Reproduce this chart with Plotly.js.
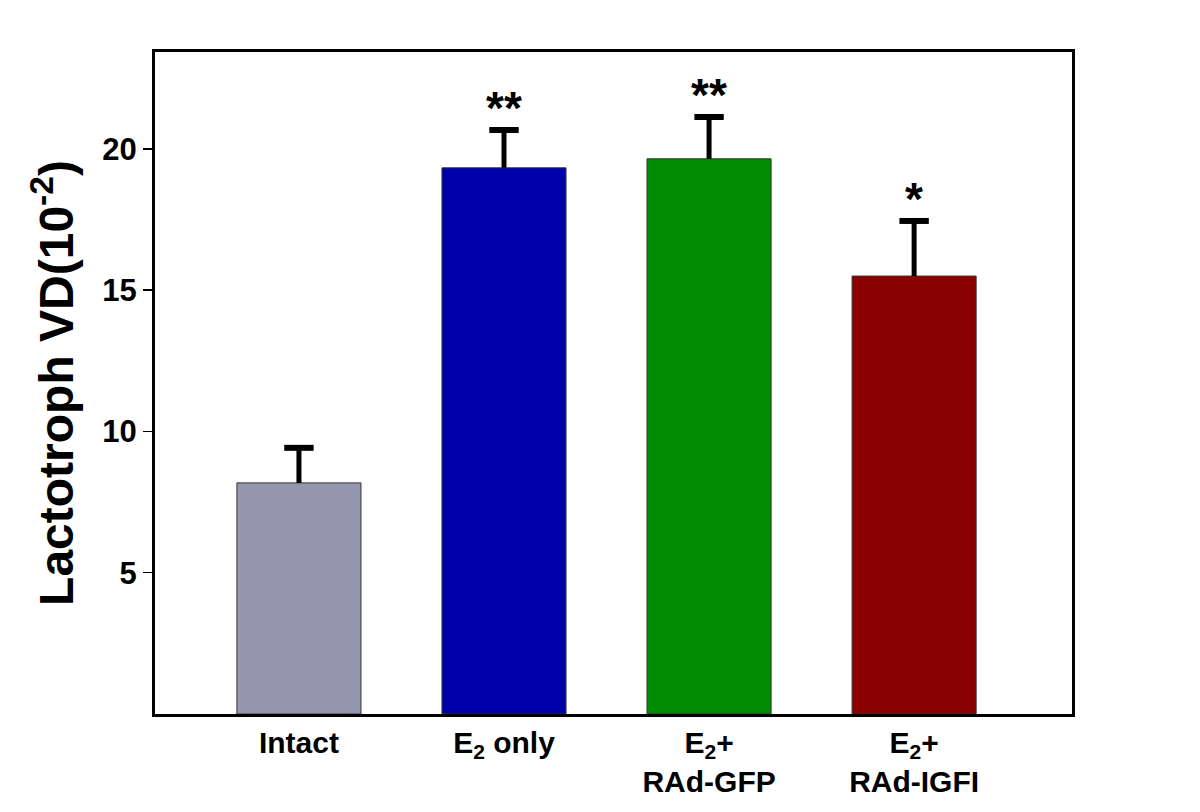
<!DOCTYPE html>
<html>
<head>
<meta charset="utf-8">
<script src="https://cdn.plot.ly/plotly-3.0.1.min.js"></script>
<style>html,body{margin:0;padding:0;background:#fff;}#chart{width:1200px;height:812px;}</style>
</head>
<body>
<div id="chart"></div>
<script>
const categories = ["Intact", "E2 only", "E2+ RAd-GFP", "E2+ RAd-IGFI"];
const tickLabels = ["Intact", "E<sub>2</sub> only", "E<sub>2</sub>+<br>RAd-GFP", "E<sub>2</sub>+<br>RAd-IGFI"];
const means = [8.18, 19.33, 19.65, 15.5];
const errPlus = [1.24, 1.34, 1.48, 1.95];
const errMinus = [0, 0, 0, 0];
const sigMarks = ["", "**", "**", "*"];
const barColors = ["#9696ae", "#0000aa", "#008b00", "#8b0000"];

const FONT = "Liberation Sans, Arial, sans-serif";
const errTops = means.map((m, i) => m + errPlus[i]);

const barTrace = {
  type: "bar",
  x: categories,
  y: means,
  width: 0.605,
  marker: {color: barColors, line: {color: "#333333", width: 1}},
  error_y: {
    type: "data", symmetric: false,
    array: errPlus, arrayminus: errMinus,
    color: "#000000", thickness: 5, width: 0
  },
  hoverinfo: "none"
};

const capTrace = {
  type: "scatter", mode: "markers",
  x: categories, y: errTops,
  marker: {symbol: "line-ew", size: 21, color: "#000", line: {color: "#000", width: 6}},
  hoverinfo: "none", cliponaxis: false
};

const annotations = categories.map((c, i) => ({
  x: c, y: errTops[i], xref: "x", yref: "y",
  text: sigMarks[i], showarrow: false,
  yanchor: "bottom", yshift: -6,
  font: {family: FONT, size: 46, color: "#000", weight: "bold"}
})).filter(a => a.text !== "");

const layout = {
  width: 1200, height: 812,
  margin: {l: 155, r: 128, t: 52, b: 98},
  paper_bgcolor: "#fff", plot_bgcolor: "#fff",
  showlegend: false,
  font: {family: FONT, color: "#000"},
  xaxis: {
    type: "category",
    tickmode: "array", tickvals: categories, ticktext: tickLabels,
    range: [-0.702, 3.77],
    showline: true, linecolor: "#000", linewidth: 3, mirror: true,
    ticks: "", showgrid: false, zeroline: false,
    tickfont: {family: FONT, size: 30, color: "#000", weight: "bold"}
  },
  yaxis: {
    range: [0, 23.43],
    tickvals: [5, 10, 15, 20],
    showline: true, linecolor: "#000", linewidth: 3, mirror: true,
    ticks: "outside", ticklen: 9, tickwidth: 1.5, tickcolor: "#000",
    showgrid: false, zeroline: false,
    tickfont: {family: FONT, size: 31, color: "#000", weight: "bold"},
    title: {text: "Lactotroph VD(10<sup>-2</sup>)", standoff: 14,
      font: {family: FONT, size: 48, color: "#000", weight: "bold"}}
  },
  annotations: annotations
};

Plotly.newPlot("chart", [barTrace, capTrace], layout, {displayModeBar: false, staticPlot: true});
</script>
</body>
</html>
